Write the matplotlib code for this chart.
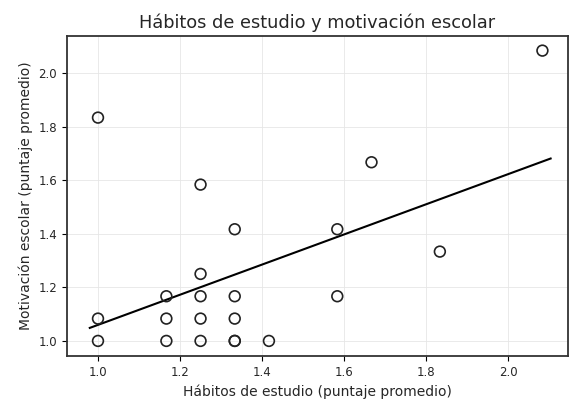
import numpy as np
import matplotlib.pyplot as plt

# average scores (12-item scales)
habitos = [1.0, 1.0, 1.0,
           1.1667, 1.1667, 1.1667,
           1.25, 1.25, 1.25, 1.25, 1.25,
           1.3333, 1.3333, 1.3333, 1.3333, 1.3333,
           1.4167,
           1.5833, 1.5833,
           1.6667,
           1.8333,
           2.0833]
motivacion = [1.0, 1.0833, 1.8333,
              1.0, 1.0833, 1.1667,
              1.0, 1.0833, 1.1667, 1.25, 1.5833,
              1.0, 1.0, 1.0833, 1.1667, 1.4167,
              1.0,
              1.1667, 1.4167,
              1.6667,
              1.3333,
              2.0833]

x = np.array(habitos)
y = np.array(motivacion)

# linear fit
m, b = np.polyfit(x, y, 1)
xs = np.linspace(x.min() - 0.02, x.max() + 0.02, 50)

txt = '#262626'
fig, ax = plt.subplots(figsize=(5.71, 4.04), dpi=100)
ax.scatter(x, y, s=60, facecolors='none', edgecolors='#222222', linewidths=1.2, zorder=3)
ax.plot(xs, m * xs + b, color='black', linewidth=1.5, zorder=2)

ax.set_title('Hábitos de estudio y motivación escolar', fontsize=12.8, color=txt)
ax.set_xlabel('Hábitos de estudio (puntaje promedio)', fontsize=10, color=txt)
ax.set_ylabel('Motivación escolar (puntaje promedio)', fontsize=10, color=txt)
ax.set_xlim(0.924, 2.146)
ax.set_ylim(0.944, 2.138)
ax.tick_params(labelsize=8.5, labelcolor=txt)
ax.grid(True, color='#e6e6e6', linewidth=0.6)
ax.set_axisbelow(True)
for s in ax.spines.values():
    s.set_linewidth(1.3)
    s.set_color('#333333')

fig.subplots_adjust(left=0.117, right=0.995, top=0.911, bottom=0.119)
fig.savefig('out.png')
